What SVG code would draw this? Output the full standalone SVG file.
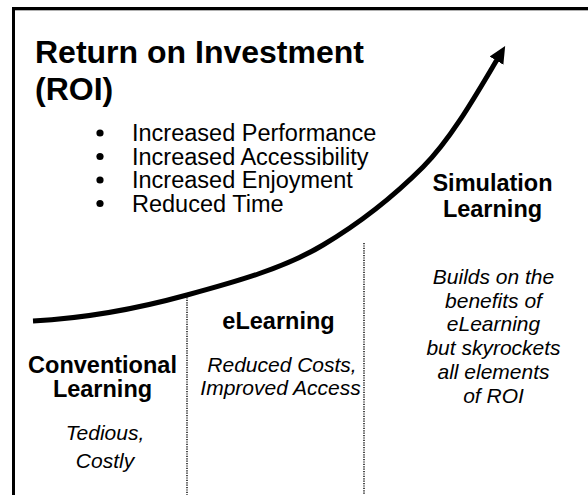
<svg xmlns="http://www.w3.org/2000/svg" width="588" height="495" viewBox="0 0 588 495">
  <defs>
    <marker id="head" markerUnits="userSpaceOnUse" markerWidth="20" markerHeight="20" refX="3" refY="8" orient="auto">
      <path d="M0,0 L17,8 L0,16 z" fill="#000"/>
    </marker>
  </defs>
  <style>
    text { font-family: "Liberation Sans", Arial, sans-serif; fill: #000; }
    .title { font-size: 32px; font-weight: bold; }
    .bullet { font-size: 23.5px; }
    .head { font-size: 23.5px; font-weight: bold; text-anchor: middle; }
    .note { font-size: 21px; font-style: italic; text-anchor: middle; }
    .divider { stroke: #000; stroke-width: 1.4; stroke-dasharray: 1.2 1.2; fill: none; }
  </style>

  <rect width="588" height="495" fill="#fff"/>

  <!-- frame: top and left edges only -->
  <path d="M13.5,495 V8.5 H588" fill="none" stroke="#000" stroke-width="3"/>
  <path d="M15,10.5 H588" stroke="#b0b0b0" stroke-width="1"/>

  <!-- title and benefit list -->
  <g id="roi">
    <text class="title" x="35" y="63">Return on Investment</text>
    <text class="title" x="35" y="100">(ROI)</text>
    <g id="benefits">
      <circle cx="100" cy="133" r="3.6"/>
      <circle cx="100" cy="156.5" r="3.6"/>
      <circle cx="100" cy="180" r="3.6"/>
      <circle cx="100" cy="203.5" r="3.6"/>
      <text class="bullet" x="132" y="141">Increased Performance</text>
      <text class="bullet" x="132" y="164.5">Increased Accessibility</text>
      <text class="bullet" x="132" y="188">Increased Enjoyment</text>
      <text class="bullet" x="132" y="211.5">Reduced Time</text>
    </g>
  </g>

  <!-- growth curve and stage dividers -->
  <g id="connectors">
    <path d="M33,321 C90,318 140,308 187,295 C235,282 285,268 323,245 C360,223 395,195 423,167 C451,139 476,95 498,58" fill="none" stroke="#000" stroke-width="5" stroke-linecap="butt" marker-end="url(#head)"/>
    <line class="divider" x1="187" y1="295" x2="187" y2="495"/>
    <line class="divider" x1="364" y1="243" x2="364" y2="495"/>
  </g>

  <g id="conventional">
    <text class="head" x="102.5" y="373">Conventional</text>
    <text class="head" x="102.5" y="397">Learning</text>
    <text class="note" x="105" y="440">Tedious,</text>
    <text class="note" x="105" y="468">Costly</text>
  </g>

  <g id="elearning">
    <text class="head" x="278.5" y="329">eLearning</text>
    <text class="note" x="282" y="372">Reduced Costs,</text>
    <text class="note" x="280.5" y="395">Improved Access</text>
  </g>

  <g id="simulation">
    <text class="head" x="492.5" y="191">Simulation</text>
    <text class="head" x="492.5" y="217">Learning</text>
    <text class="note" x="493.5" y="284">Builds on the</text>
    <text class="note" x="493.5" y="308">benefits of</text>
    <text class="note" x="493.5" y="331">eLearning</text>
    <text class="note" x="493.5" y="355">but skyrockets</text>
    <text class="note" x="493.5" y="379">all elements</text>
    <text class="note" x="493.5" y="403">of ROI</text>
  </g>
</svg>
